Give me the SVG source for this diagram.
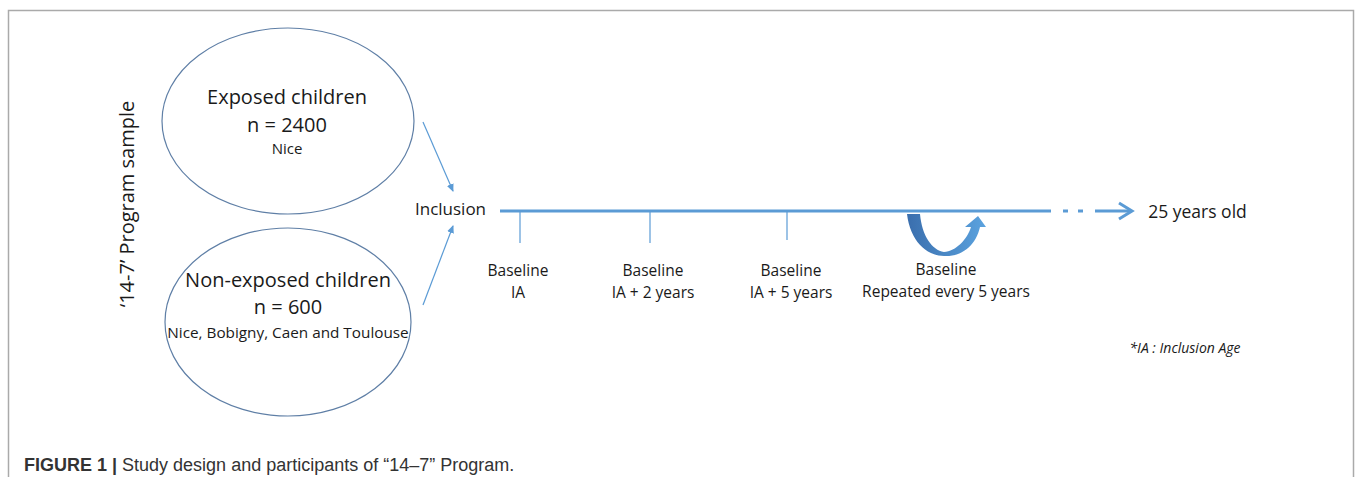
<svg xmlns="http://www.w3.org/2000/svg" width="1355" height="477" viewBox="0 0 1355 477">
<style>
.t{font-family:"Open Sans","Noto Sans",sans-serif;fill:#1a1a1a;text-anchor:middle}
.ell{fill:none;stroke:#5f7fa6;stroke-width:1.2}
.blue{stroke:#5b9bd5;fill:none}
.cap{font-family:"Liberation Sans",Arial,sans-serif;fill:#333;font-size:18px}
</style>
<defs>
<marker id="ah" markerWidth="8" markerHeight="8" refX="7" refY="4" orient="auto" markerUnits="userSpaceOnUse">
<path d="M0,0.5 L8,4 L0,7.5 Z" fill="#5b9bd5"/>
</marker>
<linearGradient id="ug" x1="0" y1="0" x2="1" y2="0">
<stop offset="0" stop-color="#3a6ead"/>
<stop offset="1" stop-color="#5ba3df"/>
</linearGradient>
</defs>
<rect width="1355" height="477" fill="#fff"/>
<path d="M8.5,477 L8.5,10.5 L1353.5,10.5 L1353.5,477" fill="none" stroke="#aaa" stroke-width="1.5"/>

<text class="t" font-size="20" transform="translate(134,204) rotate(-90)">‘14-7’ Program sample</text>

<g id="exposed">
<ellipse class="ell" cx="288" cy="121" rx="126" ry="93"/>
<text class="t" font-size="20" x="287" y="104">Exposed children</text>
<text class="t" font-size="20" x="287" y="132">n = 2400</text>
<text class="t" font-size="15" x="287" y="154">Nice</text>
</g>

<g id="nonexposed">
<ellipse class="ell" cx="288" cy="322" rx="123" ry="94"/>
<text class="t" font-size="20" x="288" y="287">Non-exposed children</text>
<text class="t" font-size="20" x="288" y="314">n = 600</text>
<text class="t" font-size="15.3" x="288" y="338">Nice, Bobigny, Caen and Toulouse</text>
</g>

<g id="inclusion">
<text class="t" font-size="17" x="450.5" y="215">Inclusion</text>
</g>

<g id="connectors">
<line class="blue" stroke-width="1.2" x1="423" y1="122" x2="453" y2="191" marker-end="url(#ah)"/>
<line class="blue" stroke-width="1.2" x1="423" y1="305" x2="453" y2="226" marker-end="url(#ah)"/>
<line class="blue" stroke-width="3" x1="500" y1="211" x2="1051" y2="211"/>
<line class="blue" stroke-width="3" x1="1063" y1="211" x2="1068" y2="211"/>
<line class="blue" stroke-width="3" x1="1078" y1="211" x2="1083" y2="211"/>
<line class="blue" stroke-width="3" x1="1095" y1="211" x2="1131" y2="211"/>
<path class="blue" stroke-width="3" d="M1119,203 L1132,211 L1119,219"/>
<line class="blue" stroke-width="1.2" x1="520" y1="211" x2="520" y2="243"/>
<line class="blue" stroke-width="1.2" x1="650" y1="211" x2="650" y2="243"/>
<line class="blue" stroke-width="1.2" x1="787" y1="211" x2="787" y2="240"/>
<path d="M907,214 L920,214 C922,236 932,250 944,252 C956,251 967,240 971,227 L965,227 L978,216 L986,227 L980,227 C976,245 962,257 944,256 C926,256 910,240 907,214 Z" fill="url(#ug)"/>
</g>

<g id="end">
<text class="t" font-size="17.5" x="1197.5" y="218">25 years old</text>
</g>

<g id="labels">
<text class="t" font-size="15.5" x="518" y="276">Baseline</text>
<text class="t" font-size="15.5" x="518" y="298">IA</text>
<text class="t" font-size="15.5" x="653" y="276">Baseline</text>
<text class="t" font-size="15.5" x="653" y="298">IA + 2 years</text>
<text class="t" font-size="15.5" x="791" y="276">Baseline</text>
<text class="t" font-size="15.5" x="791" y="298">IA + 5 years</text>
<text class="t" font-size="15.5" x="946" y="275">Baseline</text>
<text class="t" font-size="15.5" x="946" y="297">Repeated every 5 years</text>
<text class="t" font-size="14" font-style="italic" x="1185" y="353">*IA : Inclusion Age</text>
</g>

<text class="cap" x="24" y="471"><tspan font-weight="bold">FIGURE 1 | </tspan>Study design and participants of “14–7” Program.</text>
</svg>
